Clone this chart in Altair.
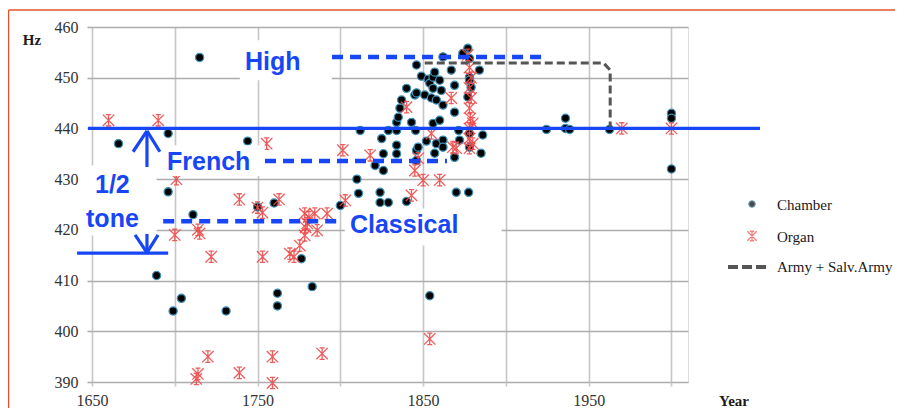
import altair as alt
import pandas as pd

# ---------------- data ----------------
chamber_year = [1666, 1696, 1696, 1711, 1689, 1699, 1704, 1715, 1731, 1744, 1750, 1760, 1762, 1762,
                1776.5, 1783, 1800, 1810, 1811, 1812,
                1824, 1824, 1829, 1840, 1826, 1821, 1826, 1825, 1829, 1834, 1834, 1834, 1834, 1835,
                1836, 1837, 1840, 1843, 1845, 1845.5, 1846, 1846, 1846, 1846, 1847, 1849, 1851, 1852,
                1853, 1854, 1855, 1856, 1856, 1856, 1857, 1857, 1858, 1858, 1860, 1860, 1861, 1862,
                1862, 1862, 1862, 1867, 1869, 1869, 1869, 1870, 1871.5, 1872, 1877, 1874, 1878, 1878,
                1878, 1879, 1877, 1878, 1878, 1877.5, 1884, 1886, 1885, 1854,
                1924.5, 1936, 1936, 1938.5, 1962.6, 2000, 2000, 2000]
chamber_hz = [437, 439, 427.5, 423, 411, 404, 406.5, 454, 404, 437.5, 424.5, 425.3, 407.5, 405,
              414.3, 408.8, 424.8, 430, 427.2, 439.6,
              427.4, 425.4, 425.4, 425.6, 435, 432.7, 431.7, 438, 439.6, 436.7, 435, 439.6, 441.2, 442.2,
              444, 445.6, 447.9, 441.2, 446.6, 439.6, 435.7, 433.7, 447, 452.5, 436.3, 450.3, 446.6, 437.5,
              449.7, 448.9, 446, 450.1, 447.9, 441, 451.1, 435.1, 437, 445.6, 449.5, 441.6, 447.5, 454.1,
              437.7, 436.3, 444.6, 451.5, 448.5, 443.2, 434.3, 427.4, 439.6, 437.7, 455.8, 454.8, 453.8, 450.1,
              449.5, 448.1, 446.2, 439, 436.3, 427.4, 451.5, 438.7, 435.1, 407,
              439.8, 442, 440, 439.8, 439.8, 443, 442, 432]

organ_year = [1660, 1690, 1701, 1700, 1714, 1715, 1722, 1739, 1750, 1753, 1753, 1755.5, 1763,
              1769.5, 1772, 1775.5, 1778.5, 1778.5, 1780, 1781, 1784.6, 1786, 1792, 1779,
              1801.5, 1803, 1818, 1843, 1845, 1847, 1850, 1855, 1860, 1840, 1867, 1868, 1870,
              1878, 1878, 1878, 1878.5, 1878, 1879, 1878, 1879, 1878, 1877, 1880, 1880,
              1854, 1720, 1714, 1713, 1739, 1759, 1759, 1789, 1970, 2000]
organ_hz = [441.6, 441.6, 430, 419, 420, 419.3, 414.7, 426, 424.4, 423.4, 414.7, 437, 426,
            415.3, 414.7, 416.9, 418.9, 423.2, 421.3, 422.5, 423.2, 419.9, 423.2, 420.5,
            435.7, 425.8, 434.7, 426.8, 431.7, 434.1, 429.8, 439, 429.8, 444.2, 446, 436.3, 436.1,
            436.1, 438, 440, 442, 444, 446, 448, 450, 452, 454.5, 441, 437,
            398.5, 395, 391.6, 390.6, 391.8, 395, 389.8, 395.6, 440, 440]

army_year = [1851, 1959, 1963, 1963]
army_hz = [452.9, 452.9, 451.5, 440.2]

# annotation labels
note_text = ["High", "French", "1/2", "tone", "Classical"]
note_year = [1742.4, 1695.3, 1651.8, 1646.4, 1805.8]
note_hz = [451.5, 431.8, 427.3, 420.6, 419.4]

# dashed pitch-level lines
dash_year = [1795, 1754.5, 1693]
dash_year2 = [1921.8, 1864.4, 1801.6]
dash_hz = [454.1, 433.6, 421.7]

# white label boxes
box_year = [1739.3, 1691, 1642.8, 1802.7]
box_year2 = [1794.8, 1754.4, 1689, 1897.4]
box_hz = [449.5, 430.6, 418.9, 416.9]
box_hz2 = [457.4, 436.7, 432.7, 424.2]

# solid blue segments (reference line, half-tone arrows)
seg_year = [1647.6, 1641, 1683.2, 1683.2, 1683.2, 1683.2, 1676, 1689.9]
seg_year2 = [2053.5, 1696, 1683.2, 1674.8, 1691, 1683.2, 1683.2, 1683.2]
seg_hz = [440, 415.4, 439.5, 439.5, 439.5, 419.2, 419, 419]
seg_hz2 = [440, 415.4, 432.4, 435.4, 435.4, 415.5, 415.5, 415.5]

BLUE = "#1646F5"
RED = "#EE4B4B"
SERIF = "Liberation Serif"
SANS = "Liberation Sans"
STAR = "M-1,-1L1,1M-1,1L1,-1M0,-1.1L0,1.1M-0.45,-1L0.45,-1M-0.45,1L0.45,1"

xs = alt.Scale(domain=[1650, 2010], nice=False, zero=False)
ys = alt.Scale(domain=[390, 460], nice=False, zero=False)

x_axis = alt.Axis(values=list(range(1650, 2001, 50)),
                  labelExpr="(datum.value - 1650) % 100 == 0 ? datum.value : ''",
                  title=None, grid=True, gridColor="#c6c6c6", gridWidth=1.6,
                  domain=False, tickColor="#c6c6c6", tickWidth=1.6, tickSize=4,
                  labelFlush=False, labelOverlap=False,
                  labelFont=SERIF, labelFontSize=16, labelColor="#333333", labelPadding=6)
y_axis = alt.Axis(values=list(range(390, 461, 10)), title=None, grid=True,
                  gridColor="#adadad", gridWidth=1.6, domain=False,
                  tickColor="#adadad", tickWidth=1.6, tickSize=5,
                  labelFlush=False, labelOverlap=False,
                  labelFont=SERIF, labelFontSize=16, labelColor="#333333", labelPadding=9)

chamber_df = pd.DataFrame({"year": chamber_year, "hz": chamber_hz})
organ_df = pd.DataFrame({"year": organ_year, "hz": organ_hz})
army_df = pd.DataFrame({"year": army_year, "hz": army_hz, "o": list(range(len(army_year)))})
note_df = pd.DataFrame({"year": note_year, "hz": note_hz, "t": note_text})
dash_df = pd.DataFrame({"year": dash_year, "year2": dash_year2, "hz": dash_hz})
box_df = pd.DataFrame({"year": box_year, "year2": box_year2, "hz": box_hz, "hz2": box_hz2})
seg_df = pd.DataFrame({"year": seg_year, "year2": seg_year2, "hz": seg_hz, "hz2": seg_hz2})

chamber = alt.Chart(chamber_df).mark_point(
    shape="circle", filled=True, fill="black", stroke="#3d8fb5", strokeWidth=1.3,
    size=66, opacity=1
).encode(
    x=alt.X("year:Q", scale=xs, axis=x_axis),
    y=alt.Y("hz:Q", scale=ys, axis=y_axis),
)

organ = alt.Chart(organ_df).mark_point(
    shape=STAR, filled=False, stroke=RED, strokeWidth=1.3, size=130, opacity=0.9
).encode(x=alt.X("year:Q", scale=xs), y=alt.Y("hz:Q", scale=ys))

army = alt.Chart(army_df).mark_line(
    color="#555555", strokeDash=[8, 4], strokeWidth=3
).encode(x=alt.X("year:Q", scale=xs), y=alt.Y("hz:Q", scale=ys), order="o:Q")

boxes = alt.Chart(box_df).mark_rect(fill="white", clip=False).encode(
    x=alt.X("year:Q", scale=xs), x2="year2:Q",
    y=alt.Y("hz:Q", scale=ys), y2="hz2:Q")

notes = alt.Chart(note_df).mark_text(
    font=SANS, fontWeight="bold", fontSize=25, color=BLUE, align="left",
    baseline="alphabetic", clip=False
).encode(x=alt.X("year:Q", scale=xs), y=alt.Y("hz:Q", scale=ys), text="t:N")

dashes = alt.Chart(dash_df).mark_rule(
    color=BLUE, strokeWidth=4.5, strokeDash=[11, 7]
).encode(x=alt.X("year:Q", scale=xs), x2="year2:Q", y=alt.Y("hz:Q", scale=ys))

segs = alt.Chart(seg_df).mark_rule(color=BLUE, strokeWidth=3.2, clip=False).encode(
    x=alt.X("year:Q", scale=xs), x2="year2:Q",
    y=alt.Y("hz:Q", scale=ys), y2="hz2:Q")

one = pd.DataFrame({"k": [0]})

# legend (drawn manually to the right of the plot)
leg_dot = alt.Chart(one).mark_point(shape="circle", filled=True, fill="black",
                                    stroke="#3d8fb5", strokeWidth=1, size=45).encode(
    x=alt.value(660), y=alt.value(177))
leg_star = alt.Chart(one).mark_point(shape=STAR, filled=False, stroke=RED,
                                     strokeWidth=1.3, size=90).encode(
    x=alt.value(660), y=alt.value(209))
leg_line = alt.Chart(one).mark_rule(color="#555555", strokeWidth=4, strokeDash=[10, 4]).encode(
    x=alt.value(636), x2=alt.value(676), y=alt.value(240))
leg_texts = []
for label, yy in [("Chamber", 178), ("Organ", 210), ("Army + Salv.Army", 240)]:
    leg_texts.append(alt.Chart(one).mark_text(
        text=label, font=SERIF, fontSize=15, color="#1a1a1a", align="left", baseline="middle"
    ).encode(x=alt.value(685), y=alt.value(yy)))

hz_title = alt.Chart(one).mark_text(text="Hz", font=SERIF, fontSize=15, fontWeight="bold",
                                    color="#1a1a1a", baseline="middle").encode(
    x=alt.value(-60), y=alt.value(13))
year_title = alt.Chart(one).mark_text(text="Year", font=SERIF, fontSize=15, fontWeight="bold",
                                      color="#1a1a1a", baseline="middle").encode(
    x=alt.value(642), y=alt.value(374))

frame_top = alt.Chart(one).mark_rule(color="#E5532D", strokeWidth=1.5).encode(
    x=alt.value(-83.5), x2=alt.value(900), y=alt.value(-17))
frame_left = alt.Chart(one).mark_rule(color="#E5532D", strokeWidth=1.5).encode(
    x=alt.value(-83.5), y=alt.value(-17), y2=alt.value(400))

chart = alt.layer(
    chamber, organ, army, boxes, notes, dashes, segs,
    leg_dot, leg_star, leg_line, *leg_texts, hz_title, year_title, frame_top, frame_left
).properties(
    width=596, height=355,
    autosize=alt.AutoSizeParams(type="none"),
    padding={"left": 84, "top": 19, "right": 207, "bottom": 26},
).configure_view(stroke=None).configure(background="white")

chart.save("out.html", embed_options={"renderer": "svg", "actions": False})
